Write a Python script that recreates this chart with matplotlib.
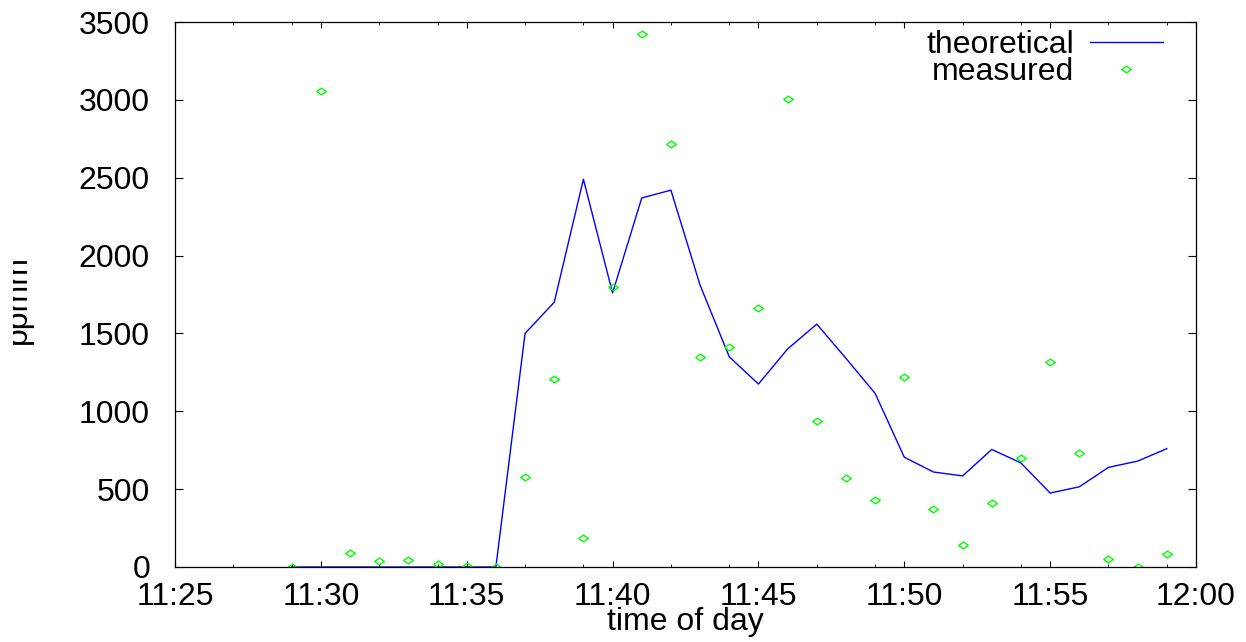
import matplotlib
matplotlib.use("Agg")
import matplotlib.pyplot as plt
import matplotlib.dates as mdates
from matplotlib.transforms import Bbox
import pandas as pd

plt.rcParams['font.family'] = ['Liberation Sans', 'DejaVu Sans']

# one sample per minute, 11:29 .. 11:59
times = ["11:29", "11:30", "11:31", "11:32", "11:33", "11:34", "11:35", "11:36",
         "11:37", "11:38", "11:39", "11:40", "11:41", "11:42", "11:43", "11:44",
         "11:45", "11:46", "11:47", "11:48", "11:49", "11:50", "11:51", "11:52",
         "11:53", "11:54", "11:55", "11:56", "11:57", "11:58", "11:59"]
theoretical = [0, 0, 0, 0, 0, 0, 0, 0,
               1500, 1700, 2490, 1760, 2370, 2420, 1810, 1350,
               1175, 1400, 1560, 1340, 1115, 705, 610, 585,
               755, 668, 475, 515, 640, 680, 760]
measured = [0, 3060, 90, 40, 45, 20, 5, 0,
            575, 1205, 185, 1800, 3420, 2715, 1348, 1412,
            1663, 3005, 937, 571, 430, 1220, 372, 141,
            411, 700, 1316, 732, 51, 0, 83]

x = pd.to_datetime(["2000-01-01 " + t for t in times])
x_start = pd.Timestamp("2000-01-01 11:25")
x_end = pd.Timestamp("2000-01-01 12:00")

fs = 23
fig = plt.figure(figsize=(12.46, 6.42), dpi=100)
ax = fig.add_axes([175 / 1246, 75 / 642, 1021 / 1246, 545 / 642])

diamond = [(-1, 0), (0, 0.7), (1, 0), (0, -0.7), (-1, 0)]
ax.plot(x, theoretical, color='#0000ff', lw=1.0, label='theoretical')
ax.plot(x, measured, linestyle='none', marker=diamond, markersize=7,
        markerfacecolor='none', markeredgecolor='#00ff00', markeredgewidth=1.0,
        label='measured')

ax.set_xlim(x_start, x_end)
ax.set_ylim(0, 3500)
ax.set_yticks(range(0, 3501, 500))
ax.xaxis.set_major_locator(mdates.MinuteLocator(byminute=range(0, 60, 5)))
ax.xaxis.set_minor_locator(mdates.MinuteLocator(
    byminute=[m for m in range(60) if m % 5 in (2, 4)]))
ax.xaxis.set_major_formatter(mdates.DateFormatter('%H:%M'))

ax.tick_params(which='both', direction='in', top=True, right=True,
               labelsize=fs, colors='black')
ax.tick_params(axis='x', which='major', length=4.5, pad=11)
ax.tick_params(axis='x', which='minor', length=2.2)
ax.tick_params(axis='y', which='major', length=5.8, pad=18)
for s in ax.spines.values():
    s.set_linewidth(0.9)

ax.legend(loc='upper right', bbox_to_anchor=(0.9677, 0.985), frameon=False,
          fontsize=fs, markerfirst=False, handlelength=2.29, handletextpad=0.5,
          labelspacing=-0.09, borderaxespad=0, borderpad=0)

fig.text(685 / 1246, 12 / 642, 'time of day', fontsize=fs,
         ha='center', va='baseline')
yl = fig.text(33 / 1246, 343 / 642, 'ppmm', fontsize=fs, rotation=90,
              ha='right', va='center')
yl.set_clip_box(Bbox.from_extents(13, 0, 1246, 642))
yl.set_clip_on(True)

fig.savefig('out.png', dpi=100)
